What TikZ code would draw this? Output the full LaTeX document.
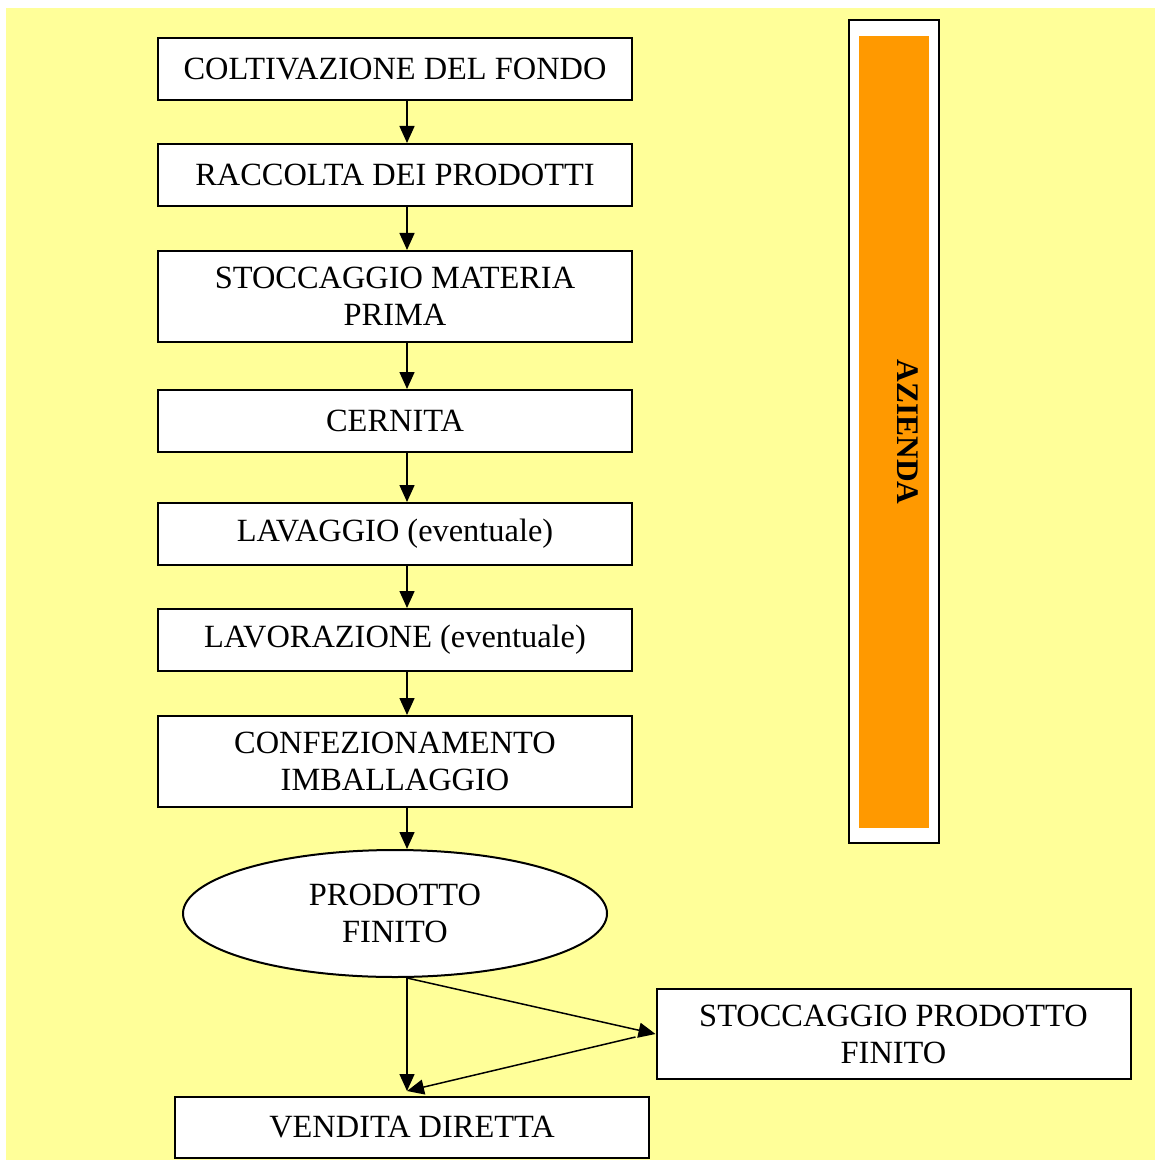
\documentclass[tikz,border=0pt]{standalone}
\usepackage{fontspec}
\setmainfont{Liberation Serif}
\usetikzlibrary{arrows.meta}
\usetikzlibrary{shapes.geometric}

\begin{document}
\begin{tikzpicture}[x=0.5pt, y=-0.5pt]
            \tikzstyle{box} = [draw, line width=1pt, fill=white, minimum width=237pt, align=center, inner sep=0pt, font=\fontsize{16.2}{18.5}\selectfont]
            \tikzstyle{arr} = [line width=0.75pt, -{Triangle[length=8.5pt, width=7.5pt]}]
            \useasboundingbox (0, 0) rectangle (1155, 1160);
            \fill[color={rgb,255:red,255;green,255;blue,153}] (6, 8) rectangle (1155, 1160);
            % azienda
            \draw[line width=1pt, fill=white] (849, 20) rectangle (939, 843);
            \fill[color={rgb,255:red,255;green,153;blue,0}] (859, 36) rectangle (929, 828);
            \node[rotate=-90, font=\fontsize{15.7}{18.5}\selectfont\bfseries] (az) at (908, 432) {AZIENDA};
            % flow
            \node[box, minimum height=31pt] (c1) at (395, 69) {COLTIVAZIONE DEL FONDO};
            \node[box, minimum height=31pt] (c2) at (395, 175) {RACCOLTA DEI PRODOTTI};
            \node[box, minimum height=45.5pt] (c3) at (395, 296.5) {STOCCAGGIO MATERIA\\PRIMA};
            \node[box, minimum height=31pt] (c4) at (395, 421) {CERNITA};
            \node[box, minimum height=31pt] (c5) at (395, 534) {LAVAGGIO (eventuale)};
            \node[box, minimum height=31pt] (c6) at (395, 640) {LAVORAZIONE (eventuale)};
            \node[box, minimum height=45.5pt] (c7) at (395, 761.5) {CONFEZIONAMENTO\\IMBALLAGGIO};
            \node[box, ellipse, minimum width=212pt, minimum height=63.5pt] (pf) at (395, 913.5) {PRODOTTO\\FINITO};
            \node[box, minimum height=45pt] (sp) at (893.5, 1034) {STOCCAGGIO PRODOTTO\\FINITO};
            \node[box, minimum height=30.5pt] (vd) at (412, 1127.5) {VENDITA DIRETTA};
            \foreach \a/\b in {c1/c2, c2/c3, c3/c4, c4/c5, c5/c6, c6/c7, c7/pf}
                \draw[arr] ([xshift=6pt]\a.south) -- ([xshift=6pt]\b.north);
            \coordinate (fork) at ([xshift=6pt]pf.south);
            \coordinate (back) at ([xshift=-10pt, yshift=-1.5pt]sp.west);
            \coordinate (land) at ([xshift=-2.5pt, yshift=2.5pt]vd.north);
            \draw[arr] (fork) -- (land);
            \draw[arr] (fork) -- (sp.west);
            \draw[arr] (back) -- (land);
        \end{tikzpicture}
\end{document}
